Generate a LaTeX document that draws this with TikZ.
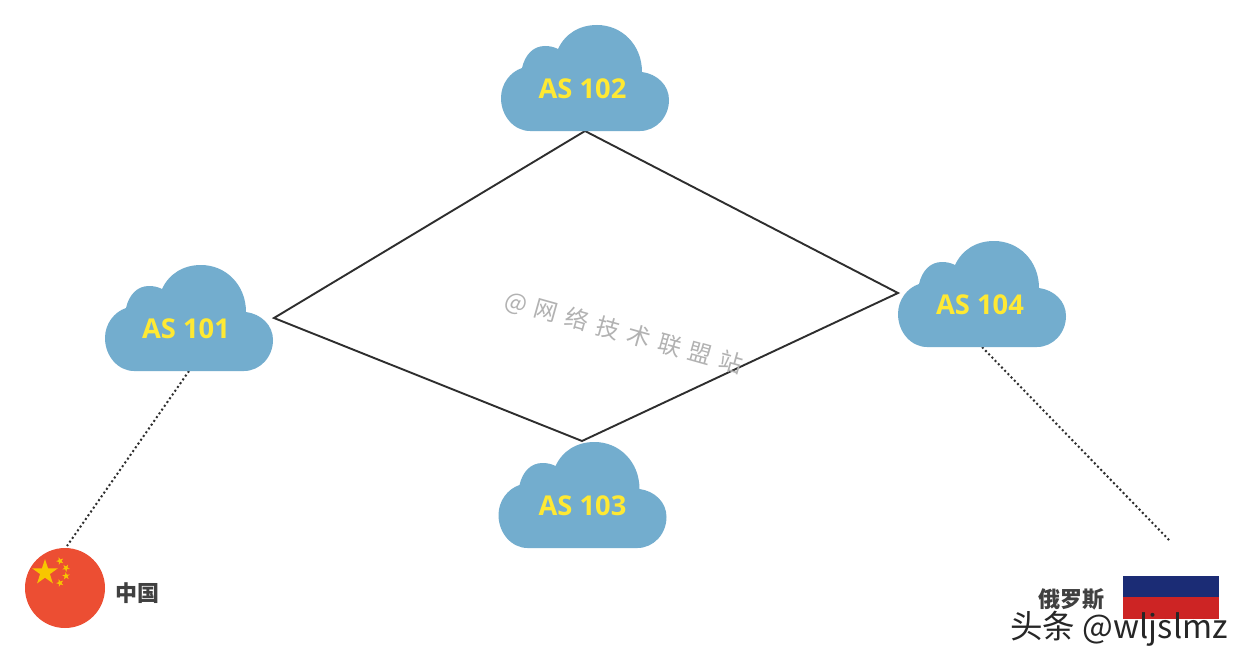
\documentclass[tikz,border=0pt]{standalone}
\usepackage{fontspec}
\setmainfont{Open Sans}
\newfontfamily\cjk{Noto Sans CJK SC}
\usetikzlibrary{shapes.geometric}
\definecolor{cloudblue}{HTML}{73ADCE}
\definecolor{asyellow}{HTML}{FFE933}
\definecolor{linegray}{HTML}{2E2E2E}
\definecolor{cnred}{HTML}{EC4E33}
\definecolor{cnstar}{HTML}{F7C600}
\definecolor{rublue}{HTML}{1B2C75}
\definecolor{rured}{HTML}{CD2424}
\definecolor{labelgray}{HTML}{404040}
\tikzset{
 aslabel/.style={text=asyellow,font=\fontsize{27.3}{27}\selectfont\bfseries,inner sep=0pt},
 link/.style={draw=linegray,line width=1.9pt,line join=miter},
 duct/.style={draw=linegray,line width=2pt,dash pattern=on 2pt off 2.6pt},
 countrylabel/.style={text=labelgray,font=\cjk\fontsize{22}{22}\selectfont\bfseries,inner sep=0pt},
 starshape/.style={star,star points=5,star point ratio=2.62,fill=cnstar,inner sep=0pt,minimum size=#1}
}
\newcommand{\cloudat}[5]{%
 \fill[cloudblue,shift={(#1,#2)}] (29,106) .. controls (13,106) and (0,91) .. (0,73)
  .. controls (0,59) and (9,47) .. (21,43)
  .. controls (24,30) and (32,21) .. (44,21)
  .. controls (49,21) and (53,22) .. (57,24)
  .. controls (64,9) and (78,0) .. (96,0)
  .. controls (121,0) and (141,20) .. (141,47)
  .. controls (156,49) and (168,60) .. (168,75)
  .. controls (168,92) and (155,106) .. (139,106) -- cycle;
 \node[aslabel] (#3) at (#5) {#4};
}
\begin{document}
\begin{tikzpicture}[x=1pt,y=-1pt]
\useasboundingbox (0,0) rectangle (1246,666);
\fill[white] (0,0) rectangle (1246,666);
\coordinate (top) at (585,131);
\coordinate (right) at (898,293);
\coordinate (bottom) at (582,441);
\coordinate (left) at (274,318);
\coordinate (duct101) at (189,371);
\coordinate (ductcn) at (67,546);
\coordinate (duct104) at (982,347);
\coordinate (ductru) at (1170,541);
\node[circle,fill=cnred,minimum size=80pt,inner sep=0pt] (cnflag) at (65,588) {};
\node[starshape=27pt] (bigstar) at (45,572.5) {};
\node[starshape=8pt,rotate=20] (s1) at (60,561) {};
\node[starshape=8pt,rotate=40] (s2) at (66,568) {};
\node[starshape=8pt,rotate=5] (s3) at (66,576) {};
\node[starshape=8pt,rotate=20] (s4) at (60,583) {};
\node[countrylabel] (cn) at (137,593) {中国};
\fill[rublue] (1123,576) rectangle (1219,597);
\fill[rured] (1123,597) rectangle (1219,618.5);
\node[countrylabel] (ru) at (1071,599) {俄罗斯};
\draw[link] (top) -- (right) -- (bottom) -- (left) -- cycle;
\draw[duct] (duct101) -- (ductcn);
\draw[duct] (duct104) -- (ductru);
\cloudat{501}{25}{as102}{AS 102}{582.5,89}
\cloudat{105}{265}{as101}{AS 101}{186,329}
\cloudat{498.5}{442}{as103}{AS 103}{582.5,506}
\cloudat{898}{241}{as104}{AS 104}{980,305}
\node[text=black!30,rotate=-15.7,inner sep=0pt,font=\cjk\fontsize{23.5}{23.5}\selectfont] (mark) at (624,333) {@\hspace{8.5pt}网\hspace{8.5pt}络\hspace{8.5pt}技\hspace{8.5pt}术\hspace{8.5pt}联\hspace{8.5pt}盟\hspace{8.5pt}站};
\node[text=black!85,inner sep=0pt,font=\cjk\fontsize{32.5}{32.5}\selectfont] (wm) at (1119,629) {头条 @wljslmz};
\end{tikzpicture}
\end{document}
